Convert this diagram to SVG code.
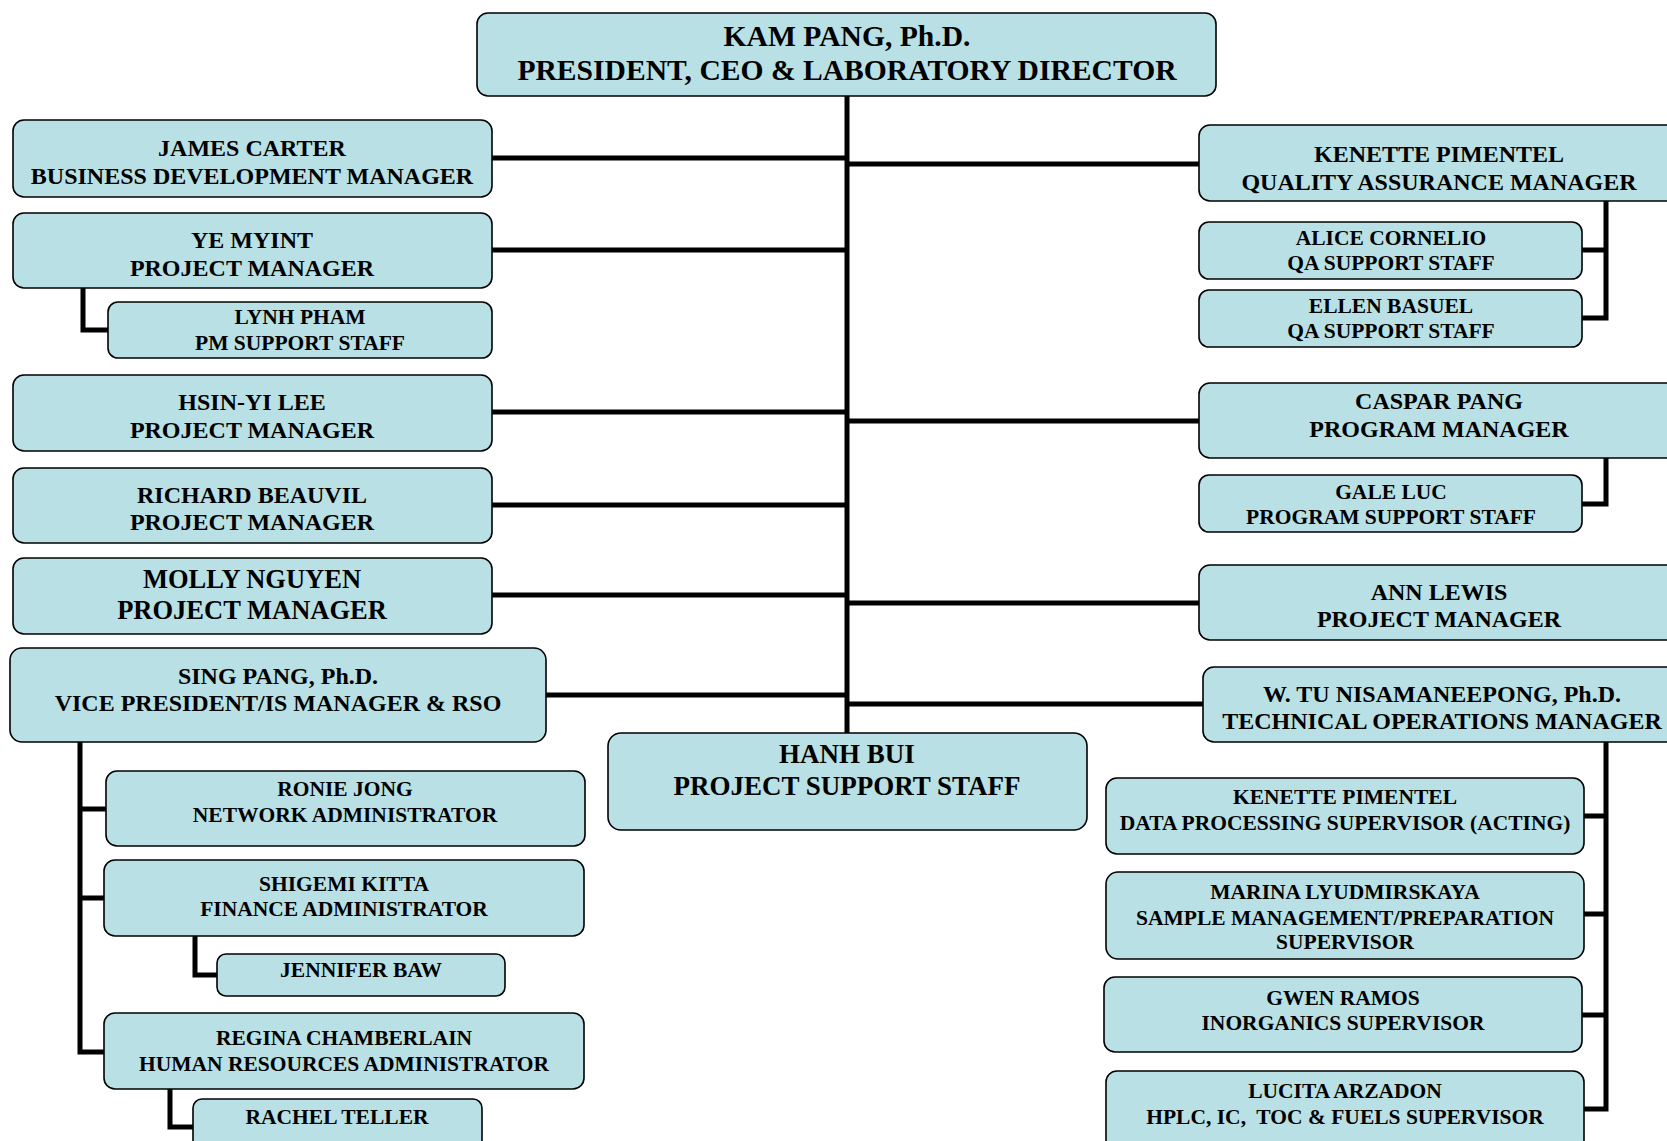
<svg xmlns="http://www.w3.org/2000/svg" width="1667" height="1141" viewBox="0 0 1667 1141">
<style>
.box{fill:#b9e0e4;stroke:#000;stroke-width:1.6}
text{font-family:"Liberation Serif","Times New Roman",serif;font-weight:bold;fill:#000;text-anchor:middle}
.f29{font-size:29.6px}.f26{font-size:26.5px}.f27{font-size:27px}.f24{font-size:24px}.f21{font-size:21.5px}.f20{font-size:21.5px}
.ln{fill:none;stroke:#000;stroke-width:5}
</style>
<rect width="1667" height="1141" fill="#fff"/>
<g id="connectors">
<path class="ln" d="M847 96V733"/>
<path class="ln" d="M492 158H847M492 250H847M492 412H847M492 505H847M492 595H847M546 695H847"/>
<path class="ln" d="M847 164H1199M847 421H1199M847 603H1199M847 704H1203"/>
<path class="ln" d="M83 288V330H108"/>
<path class="ln" d="M80 742V1052H104M80 809H106M80 898H104"/>
<path class="ln" d="M195 936V975H217"/>
<path class="ln" d="M170 1089V1127H193"/>
<path class="ln" d="M1606 201V318H1582M1582 250H1606"/>
<path class="ln" d="M1606 458V504H1582"/>
<path class="ln" d="M1606 742V1109H1584M1584 816H1606M1584 914H1606M1582 1015H1606"/>
</g>
<g id="n-kam"><rect class="box" x="477" y="13" width="739" height="83" rx="11"/><text class="f29" x="847" y="46">KAM PANG, Ph.D.</text><text class="f29" x="847" y="80">PRESIDENT, CEO &amp; LABORATORY DIRECTOR</text></g>
<g id="n-james"><rect class="box" x="13" y="120" width="479" height="77" rx="11"/><text class="f24" x="252" y="156">JAMES CARTER</text><text class="f24" x="252" y="184">BUSINESS DEVELOPMENT MANAGER</text></g>
<g id="n-ye"><rect class="box" x="13" y="213" width="479" height="75" rx="11"/><text class="f24" x="252" y="248">YE MYINT</text><text class="f24" x="252" y="276">PROJECT MANAGER</text></g>
<g id="n-lynh"><rect class="box" x="108" y="302" width="384" height="56" rx="10"/><text class="f20" x="300" y="324">LYNH PHAM</text><text class="f20" x="300" y="350">PM SUPPORT STAFF</text></g>
<g id="n-hsin"><rect class="box" x="13" y="375" width="479" height="76" rx="11"/><text class="f24" x="252" y="410">HSIN-YI LEE</text><text class="f24" x="252" y="438">PROJECT MANAGER</text></g>
<g id="n-richard"><rect class="box" x="13" y="468" width="479" height="75" rx="11"/><text class="f24" x="252" y="503">RICHARD BEAUVIL</text><text class="f24" x="252" y="530">PROJECT MANAGER</text></g>
<g id="n-molly"><rect class="box" x="13" y="558" width="479" height="76" rx="11"/><text class="f26" x="252" y="588">MOLLY NGUYEN</text><text class="f26" x="252" y="619">PROJECT MANAGER</text></g>
<g id="n-sing"><rect class="box" x="10" y="648" width="536" height="94" rx="12"/><text class="f24" x="278" y="684">SING PANG, Ph.D.</text><text class="f24" x="278" y="711">VICE PRESIDENT/IS MANAGER &amp; RSO</text></g>
<g id="n-ronie"><rect class="box" x="106" y="771" width="479" height="75" rx="11"/><text class="f21" x="345" y="796">RONIE JONG</text><text class="f21" x="345" y="822">NETWORK ADMINISTRATOR</text></g>
<g id="n-shigemi"><rect class="box" x="104" y="860" width="480" height="76" rx="11"/><text class="f21" x="344" y="891">SHIGEMI KITTA</text><text class="f21" x="344" y="916">FINANCE ADMINISTRATOR</text></g>
<g id="n-jennifer"><rect class="box" x="217" y="954" width="288" height="42" rx="9"/><text class="f20" x="361" y="977">JENNIFER BAW</text></g>
<g id="n-regina"><rect class="box" x="104" y="1013" width="480" height="76" rx="11"/><text class="f21" x="344" y="1045">REGINA CHAMBERLAIN</text><text class="f21" x="344" y="1071">HUMAN RESOURCES ADMINISTRATOR</text></g>
<g id="n-rachel"><rect class="box" x="193" y="1099" width="289" height="50" rx="9"/><text class="f20" x="337" y="1124">RACHEL TELLER</text></g>
<g id="n-hanh"><rect class="box" x="608" y="733" width="479" height="97" rx="13"/><text class="f27" x="847" y="763">HANH BUI</text><text class="f27" x="847" y="795">PROJECT SUPPORT STAFF</text></g>
<g id="n-kenette-qa"><rect class="box" x="1199" y="125" width="480" height="76" rx="11"/><text class="f24" x="1439" y="162">KENETTE PIMENTEL</text><text class="f24" x="1439" y="190">QUALITY ASSURANCE MANAGER</text></g>
<g id="n-alice"><rect class="box" x="1199" y="222" width="383" height="57" rx="10"/><text class="f20" x="1391" y="245">ALICE CORNELIO</text><text class="f20" x="1391" y="270">QA SUPPORT STAFF</text></g>
<g id="n-ellen"><rect class="box" x="1199" y="290" width="383" height="57" rx="10"/><text class="f20" x="1391" y="313">ELLEN BASUEL</text><text class="f20" x="1391" y="338">QA SUPPORT STAFF</text></g>
<g id="n-caspar"><rect class="box" x="1199" y="383" width="480" height="75" rx="11"/><text class="f24" x="1439" y="409">CASPAR PANG</text><text class="f24" x="1439" y="437">PROGRAM MANAGER</text></g>
<g id="n-gale"><rect class="box" x="1199" y="475" width="383" height="57" rx="10"/><text class="f20" x="1391" y="499">GALE LUC</text><text class="f20" x="1391" y="524">PROGRAM SUPPORT STAFF</text></g>
<g id="n-ann"><rect class="box" x="1199" y="565" width="480" height="75" rx="11"/><text class="f24" x="1439" y="600">ANN LEWIS</text><text class="f24" x="1439" y="627">PROJECT MANAGER</text></g>
<g id="n-wtu"><rect class="box" x="1203" y="667" width="480" height="75" rx="11"/><text class="f24" x="1442" y="702">W. TU NISAMANEEPONG, Ph.D.</text><text class="f24" x="1442" y="729">TECHNICAL OPERATIONS MANAGER</text></g>
<g id="n-kenette-dp"><rect class="box" x="1106" y="778" width="478" height="76" rx="11"/><text class="f21" x="1345" y="804">KENETTE PIMENTEL</text><text class="f21" x="1345" y="830">DATA PROCESSING SUPERVISOR (ACTING)</text></g>
<g id="n-marina"><rect class="box" x="1106" y="872" width="478" height="87" rx="12"/><text class="f21" x="1345" y="899">MARINA LYUDMIRSKAYA</text><text class="f21" x="1345" y="925">SAMPLE MANAGEMENT/PREPARATION</text><text class="f21" x="1345" y="949">SUPERVISOR</text></g>
<g id="n-gwen"><rect class="box" x="1104" y="977" width="478" height="75" rx="11"/><text class="f21" x="1343" y="1005">GWEN RAMOS</text><text class="f21" x="1343" y="1030">INORGANICS SUPERVISOR</text></g>
<g id="n-lucita"><rect class="box" x="1106" y="1071" width="478" height="80" rx="11"/><text class="f21" x="1345" y="1098">LUCITA ARZADON</text><text class="f21" x="1345" y="1124" xml:space="preserve">HPLC, IC,  TOC &amp; FUELS SUPERVISOR</text></g>
</svg>
